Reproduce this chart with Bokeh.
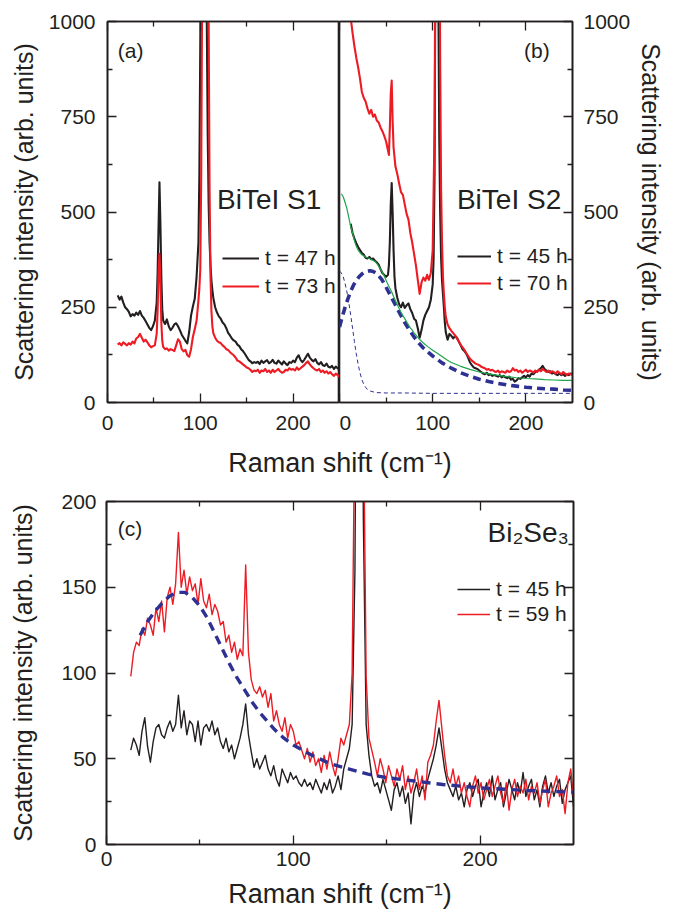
from bokeh.plotting import figure
from bokeh.models import Range1d, LinearAxis, FixedTicker, Legend, LegendItem, Label
from bokeh.layouts import column, row
from bokeh.embed import file_html
from bokeh.resources import INLINE

FONT = "Liberation Sans"
INK = "#231f20"
RED = "#ed1c24"
NAVY = "#2e3192"
GREEN = "#1ca54b"

# ---------------- panel (a): BiTeI S1 ----------------
xa = [11, 13, 15, 17, 19, 21, 23, 25, 27, 29, 31, 33, 35, 37, 39, 41, 43, 45, 47, 49, 51, 53,
      54, 55, 56, 57, 58, 59, 60,
      62, 64, 66, 68, 70, 72, 74, 76, 78, 80, 82, 84, 86, 88, 90, 92, 94, 96, 98,
      99, 100, 101, 102, 103, 104, 105, 106, 107, 108, 109, 110, 111, 112, 113, 114,
      116, 118, 120, 122, 124, 126, 128, 130, 132, 134, 136, 138, 140, 142, 144, 146, 148, 150,
      152, 154, 156, 158, 160, 162, 164, 166, 168, 170, 172, 174, 176, 178, 180, 182, 184, 186,
      188, 190, 192, 194, 196, 198, 200, 202, 204, 206, 208, 210, 212, 214, 216, 218, 220, 222,
      224, 226, 228, 230, 232, 234, 236, 238, 240, 242, 244, 246, 248, 250]
ya_47h = [281, 270, 278, 262, 250, 245, 238, 226, 232, 228, 236, 230, 240, 228, 222, 214, 205, 196, 190, 200, 215, 262,
          340, 460, 578, 470, 330, 245, 215,
          206, 218, 200, 190, 196, 205, 208, 200, 190, 178, 170, 162, 155, 185, 228, 252, 272, 330, 420,
          600, 950, 1400, 2000, 2400, 2400, 2000, 1400, 1000, 700, 520, 420, 360, 320, 295, 275,
          250, 236, 226, 220, 210, 205, 195, 183, 176, 168, 163, 160, 152, 148, 140, 135, 128, 120,
          112, 108, 103, 106, 104, 107, 101, 110, 104, 108, 111, 103, 106, 112, 104, 102, 110, 105,
          100, 108, 102, 98, 106, 104, 110, 106, 118, 124, 112, 106, 112, 120, 128, 118, 112, 108,
          114, 104, 100, 106, 98, 96, 102, 94, 92, 96, 88, 94, 90, 86]
ya_73h = [152, 156, 150, 158, 154, 150, 156, 152, 160, 155, 168, 172, 180, 170, 160, 165, 158, 150, 145, 148, 150, 180,
          240, 340, 390, 320, 210, 162, 146,
          140, 142, 136, 140, 138, 135, 150, 166, 160, 140, 134, 138, 124, 120, 140, 172, 192, 215, 268,
          300, 350, 600, 1100, 1700, 2200, 2500, 2400, 2000, 1400, 1000, 560, 330, 240, 200, 182,
          170, 162, 158, 156, 150, 146, 140, 138, 132, 128, 124, 118, 110, 108, 104, 100, 96, 92,
          90, 86, 80, 84, 82, 86, 78, 84, 82, 88, 80, 84, 78, 86, 80, 84, 88, 82,
          78, 80, 86, 84, 90, 86, 88, 84, 92, 86, 90, 94, 98, 104, 108, 100, 94, 90,
          86, 84, 88, 80, 84, 78, 82, 76, 80, 74, 70, 76, 72, 68]

# ---------------- panel (b): BiTeI S2 ----------------
xb_45h = [12, 14, 16, 18, 20, 22, 24, 26, 28, 30, 32, 34, 36, 38, 40, 42, 44, 46, 48, 50,
          52, 53, 54, 55, 56, 57, 58, 59, 60,
          62, 64, 66, 68, 70, 72, 74, 76, 78, 80, 82, 84, 86, 88, 90, 92, 94, 96, 98, 100,
          101, 102, 103, 104, 105, 106, 107, 108, 109, 110, 111, 112, 113, 114,
          116, 118, 120, 122, 124, 126, 128, 130, 132, 134, 136, 138, 140, 142, 144, 146, 148, 150,
          152, 154, 156, 158, 160, 162, 164, 166, 168, 170, 172, 174, 176, 178, 180, 182, 184, 186,
          188, 190, 192, 194, 196, 198, 200, 202, 204, 206, 208, 210, 212, 214, 216, 218, 220, 222,
          224, 226, 228, 230, 232, 234, 236, 238, 240, 242, 244, 246, 248, 250]
yb_45h = [469, 445, 430, 418, 408, 400, 392, 388, 380, 378, 382, 376, 378, 372, 368, 362, 350, 340, 335, 330,
          335, 360, 420, 520, 576, 500, 400, 330, 300,
          275, 258, 250, 262, 248, 255, 260, 245, 235, 220, 215, 195, 170, 190, 215, 230, 240, 250, 270, 310,
          380, 600, 1200, 2000, 1800, 1100, 700, 500, 380, 320, 285, 250, 210, 185,
          165, 180, 175, 168, 175, 170, 160, 150, 140, 135, 128, 118, 105, 98, 92, 90, 88, 84,
          80, 76, 74, 78, 72, 74, 70, 72, 70, 68, 72, 66, 70, 66, 64, 68, 60, 62,
          55, 58, 64, 62, 66, 70, 66, 72, 68, 76, 74, 80, 82, 86, 90, 96, 88, 84,
          80, 82, 76, 78, 74, 72, 76, 72, 74, 70, 74, 72, 76, 74]
xb_70h = [10, 12, 14, 16, 18, 20, 22, 24, 26, 28, 30, 32, 34, 36, 38, 40, 42, 44, 46, 48, 50, 52,
          53, 54, 55, 56, 57, 58,
          60, 62, 64, 66, 68, 70, 72, 74, 76, 78, 80, 82, 84, 86, 88, 90, 92, 94, 96, 98, 100, 102,
          103, 104, 105, 106, 107, 108, 109, 110, 111, 112, 113, 114,
          116, 118, 120, 122, 124, 126, 128, 130, 132, 134, 136, 138, 140, 142, 144, 146, 148, 150,
          152, 154, 156, 158, 160, 162, 164, 166, 168, 170, 172, 174, 176, 178, 180, 182, 184, 186,
          188, 190, 192, 194, 196, 198, 200, 202, 204, 206, 208, 210, 212, 214, 216, 218, 220, 222,
          224, 226, 228, 230, 232, 234, 236, 238, 240, 242, 244, 246, 248, 250]
yb_70h = [1060, 1010, 970, 935, 905, 880, 850, 815, 800, 790, 772, 758, 768, 750, 756, 740, 735, 722, 712, 700, 685, 662,
          650, 720, 810, 845, 740, 670,
          620, 600, 575, 552, 545, 520, 495, 480, 445, 420, 390, 360, 322, 285, 315, 328, 320, 335, 322, 340, 400, 720,
          1300, 2000, 2400, 2300, 1500, 900, 560, 420, 330, 285, 250, 225,
          205, 195, 188, 182, 176, 168, 160, 152, 145, 138, 130, 122, 115, 110, 106, 102, 100, 98,
          94, 92, 90, 86, 88, 84, 86, 82, 80, 84, 78, 82, 80, 78, 84, 80, 82, 90,
          84, 86, 80, 84, 78, 82, 86, 80, 84, 82, 78, 84, 80, 86, 82, 88, 84, 80,
          84, 78, 82, 80, 76, 82, 78, 74, 80, 76, 72, 76, 74, 72]
# fit (green) and its two components (navy dashed)
xb_fit = [2, 4, 6, 8, 10, 12, 14, 16, 18, 20, 22, 24, 26, 28, 30, 32, 34, 36, 38, 40,
          42, 44, 46, 48, 50, 52, 54, 56, 58, 60, 62, 64, 66, 68, 70, 72, 74, 76, 78, 80,
          85, 90, 95, 100, 105, 110, 115, 120,
          130, 140, 150, 160, 170, 180, 190, 200, 210, 220, 230, 240, 250]
yb_fit = [548, 540, 525, 508, 485, 462, 445, 425, 410, 400, 393, 388, 385, 382, 380, 378, 376, 373, 370, 365,
          358, 350, 342, 332, 320, 310, 300, 290, 278, 268, 257, 247, 237, 228, 220, 212, 204, 196, 190, 183,
          168, 156, 146, 137, 129, 121, 112, 105,
          95, 87, 80, 75, 71, 68, 65, 63, 62, 60, 59, 58, 58]
xb_broad = [0, 3, 6, 9, 12, 15, 18, 21, 24, 27, 30, 33, 36, 39, 42, 45, 48, 51, 54, 57, 60, 63, 66,
            70, 75, 80, 85, 90, 95, 100,
            110, 120, 130, 140, 150, 160, 170, 180, 190, 200, 210, 220, 230, 240, 250]
yb_broad = [198, 225, 250, 272, 292, 308, 320, 330, 337, 342, 345, 346, 344, 340, 333, 324, 312, 298, 284, 270, 256, 242, 228,
            210, 190, 172, 156, 143, 132, 122,
            104, 90, 78, 69, 61, 55, 50, 46, 43, 40, 38, 36, 35, 33, 32]
xb_narrow = [0, 2, 4, 6, 8, 10, 12, 14, 16, 18, 20, 22, 24, 26, 28, 30, 33, 36, 40, 50, 70, 100, 150, 200, 250]
yb_narrow = [345, 340, 330, 312, 290, 262, 230, 195, 160, 128, 100, 78, 60, 48, 40, 34, 30, 28, 26, 25, 25, 24, 24, 24, 24]

# ---------------- panel (c): Bi2Se3 ----------------
xc = [13, 14.5, 16, 17.5, 19, 20.5, 22, 23.5, 25, 26.5,
      28, 29.5, 31, 32.5, 34, 35.5, 37, 38.5, 40, 41.5,
      43, 44.5, 46, 47.5, 49, 50.5, 52, 53.5, 55, 56.5,
      58, 59.5, 61, 62.5, 64, 65.5, 67, 68.5, 70, 71.5,
      73, 74.5, 76, 77.5, 79, 80.5, 82, 83.5, 85, 86.5,
      88, 89.5, 91, 92.5, 94, 95.5, 97, 98.5, 100, 101.5,
      103, 104.5, 106, 107.5, 109, 110.5, 112, 113.5, 115, 116.5,
      118, 119.5, 121, 122.5, 124, 125.5, 127, 128.5, 130, 131.5,
      133, 134.5, 136, 137.5, 139, 140.5, 142, 143.5, 145, 146.5,
      148, 149.5, 151, 152.5, 154, 155.5, 157, 158.5, 160, 161.5,
      163, 164.5, 166, 167.5, 169, 170.5, 172, 173.5, 175, 176.5,
      178, 179.5, 181, 182.5, 184, 185.5, 187, 188.5, 190, 191.5,
      193, 194.5, 196, 197.5, 199, 200.5, 202, 203.5, 205, 206.5,
      208, 209.5, 211, 212.5, 214, 215.5, 217, 218.5, 220, 221.5,
      223, 224.5, 226, 227.5, 229, 230.5, 232, 233.5, 235, 236.5,
      238, 239.5, 241, 242.5, 244, 245.5, 247, 248.5, 250]
yc_59h = [98, 112, 118, 116, 126, 122, 132, 128, 122, 138,
          130, 142, 124, 144, 150, 140, 152, 182, 150, 160,
          146, 156, 148, 152, 140, 155, 142, 138, 146, 134,
          140, 136, 128, 130, 118, 122, 112, 118, 108, 114,
          110, 163, 112, 96, 90, 88, 92, 86, 90, 80,
          88, 72, 78, 70, 66, 74, 62, 70, 66, 58,
          60, 55, 50, 56, 48, 54, 46, 50, 42, 52,
          44, 54, 46, 40, 50, 62, 58, 64, 70, 100,
          260, 600, 600, 260, 98, 62, 55, 48, 40, 50,
          44, 36, 46, 40, 34, 44, 38, 46, 32, 40,
          30, 36, 44, 32, 40, 26, 48, 52, 58, 72,
          84, 68, 52, 40, 36, 44, 34, 40, 30, 36,
          28, 22, 34, 40, 30, 36, 26, 32, 38, 28,
          34, 40, 30, 24, 36, 20, 32, 38, 28, 34,
          30, 38, 26, 34, 30, 36, 24, 32, 38, 22,
          30, 34, 40, 28, 32, 18, 36, 44, 28]
yc_45h = [55, 62, 58, 52, 66, 74, 57, 48, 60, 68,
          70, 64, 62, 68, 72, 66, 70, 87, 68, 78,
          64, 72, 70, 60, 72, 58, 68, 70, 66, 72,
          64, 68, 60, 56, 62, 54, 58, 50, 56, 62,
          70, 82, 64, 54, 45, 50, 44, 48, 52, 44,
          40, 46, 38, 34, 44, 40, 36, 42, 38, 40,
          36, 34, 38, 34, 36, 32, 38, 34, 30, 36,
          32, 38, 30, 34, 40, 32, 44, 50, 56, 70,
          160, 450, 480, 190, 70, 52, 40, 34, 36, 30,
          38, 32, 26, 20, 32, 36, 28, 34, 24, 30,
          12, 30, 36, 28, 34, 30, 38, 44, 50, 58,
          68, 56, 44, 36, 32, 28, 34, 26, 30, 22,
          32, 36, 28, 34, 38, 22, 30, 36, 28, 40,
          26, 32, 36, 22, 30, 38, 32, 26, 36, 30,
          42, 28, 34, 38, 26, 32, 22, 34, 40, 30,
          36, 28, 34, 38, 24, 32, 36, 40, 22]
xc_fit = [18, 22, 26, 30, 34, 38, 42, 46, 50, 54, 58, 62, 66, 70, 74, 78, 82, 86, 90, 95, 100,
          110, 120, 130, 140, 150, 165, 180, 200, 225, 250]
yc_fit = [122, 130, 136, 141, 145, 147, 147, 144, 139, 132, 123, 114, 105, 97, 90, 83, 77, 72, 67, 62, 58,
          52, 47, 44, 41, 39, 37, 35, 33, 31.5, 30.5]

X_TICKS, X_MINOR = [0, 100, 200], [50, 150]
YA_TICKS, YA_MINOR = [0, 250, 500, 750, 1000], [125, 375, 625, 875]
YC_TICKS, YC_MINOR = [0, 50, 100, 150, 200], [25, 75, 125, 175]
Y_TITLE = "Scattering intensity (arb. units)"
X_TITLE = "Raman shift (cm\u207b\u00b9)"


def base(fw, fh, xr, yr, left, right, top, bottom, yloc="left"):
    p = figure(frame_width=fw, frame_height=fh, x_range=Range1d(*xr), y_range=Range1d(*yr),
               output_backend="svg", toolbar_location=None, y_axis_location=yloc,
               min_border_left=left, min_border_right=right, min_border_top=top,
               min_border_bottom=bottom, background_fill_color="white", border_fill_color="white")
    p.grid.visible = False
    p.outline_line_color = INK
    p.outline_line_width = 1.6
    p.outline_line_alpha = 1.0
    return p


def style_axis(ax, ticks, minor, show=True, standoff=11, size="21px"):
    ax.ticker = FixedTicker(ticks=ticks, minor_ticks=minor)
    ax.axis_line_color = INK
    ax.axis_line_width = 1.6
    ax.major_tick_line_color = INK
    ax.major_tick_line_width = 1.3
    ax.minor_tick_line_color = INK
    ax.minor_tick_line_width = 1.3
    ax.major_tick_in = 9
    ax.major_tick_out = 0
    ax.minor_tick_in = 5
    ax.minor_tick_out = 0
    ax.major_label_text_font = FONT
    if show:
        ax.major_label_text_color = INK
        ax.major_label_text_font_size = size
        ax.major_label_standoff = standoff
    else:
        ax.major_label_text_color = None
        ax.major_label_text_font_size = "1px"
        ax.major_label_standoff = 0
    ax.axis_label_text_font = FONT
    ax.axis_label_text_font_style = "normal"
    ax.axis_label_text_color = INK


def mirror(p, side, ticks, minor):
    ax = LinearAxis()
    style_axis(ax, ticks, minor, show=False)
    p.add_layout(ax, side)
    return ax


def add_text(p, x, y, text, size):
    p.add_layout(Label(x=x, y=y, text=text, text_font=FONT, text_font_size=size,
                       text_color=INK, text_align="left", text_baseline="middle"))


def add_legend(p, items, loc, glyph_w, spacing, size="21px"):
    leg = Legend(items=[LegendItem(label=l, renderers=[r]) for l, r in items], location=loc,
                 glyph_width=glyph_w, glyph_height=20, label_height=20, spacing=spacing,
                 padding=0, margin=0, label_standoff=6, label_text_font=FONT,
                 label_text_font_size=size, label_text_color=INK,
                 border_line_alpha=0, background_fill_alpha=0)
    p.add_layout(leg)


# ---- (a)
pa = base(232, 381, (0, 250), (0, 1000), 107, 0, 21, 38)
style_axis(pa.xaxis[0], X_TICKS, X_MINOR, standoff=13)
style_axis(pa.yaxis[0], YA_TICKS, YA_MINOR, standoff=12)
pa.yaxis[0].axis_label = Y_TITLE
pa.yaxis[0].axis_label_text_font_size = "25px"
pa.yaxis[0].axis_label_standoff = 8
mirror(pa, "above", X_TICKS, X_MINOR)
ka = pa.line(xa, ya_47h, line_color=INK, line_width=2.1, line_join="round")
ra = pa.line(xa, ya_73h, line_color=RED, line_width=2.1, line_join="round")
add_legend(pa, [("t = 47 h", ka), ("t = 73 h", ra)], (115, 104), 37, 4)
add_text(pa, 11, 924, "(a)", "21px")
add_text(pa, 118, 533, "BiTeI S1", "28px")

# ---- (b)
pb = base(233, 381, (0, 250), (0, 1000), 0, 101, 21, 38, yloc="right")
style_axis(pb.xaxis[0], X_TICKS, X_MINOR, standoff=13)
style_axis(pb.yaxis[0], YA_TICKS, YA_MINOR, standoff=11)
pb.yaxis[0].axis_label = Y_TITLE
pb.yaxis[0].axis_label_text_font_size = "25px"
pb.yaxis[0].axis_label_standoff = 4
mirror(pb, "above", X_TICKS, X_MINOR)
kb = pb.line(xb_45h, yb_45h, line_color=INK, line_width=2.1, line_join="round")
rb = pb.line(xb_70h, yb_70h, line_color=RED, line_width=2.1, line_join="round")
pb.line(xb_narrow, yb_narrow, line_color=NAVY, line_width=1, line_dash="4 3")
pb.line(xb_broad, yb_broad, line_color=NAVY, line_width=3.6, line_dash="8 5")
pb.line(xb_fit, yb_fit, line_color=GREEN, line_width=1.2)
add_legend(pb, [("t = 45 h", kb), ("t = 70 h", rb)], (118, 107), 34, 3)
add_text(pb, 198, 924, "(b)", "21px")
add_text(pb, 126, 533, "BiTeI S2", "28px")

# ---- (c)
pc = base(467, 343, (0, 250), (0, 200), 106, 100, 61, 71)
style_axis(pc.xaxis[0], X_TICKS, X_MINOR, standoff=7)
pc.xaxis[0].axis_label = X_TITLE
pc.xaxis[0].axis_label_text_font_size = "27px"
pc.xaxis[0].axis_label_standoff = 10
style_axis(pc.yaxis[0], YC_TICKS, YC_MINOR, standoff=10)
pc.yaxis[0].axis_label = Y_TITLE
pc.yaxis[0].axis_label_text_font_size = "25px"
pc.yaxis[0].axis_label_standoff = 21
top_c = mirror(pc, "above", X_TICKS, X_MINOR)
top_c.axis_label = X_TITLE           # shared x title of panels (a) and (b)
top_c.axis_label_text_font_size = "27px"
top_c.axis_label_standoff = 24
mirror(pc, "right", YC_TICKS, YC_MINOR)
kc = pc.line(xc, yc_45h, line_color=INK, line_width=1.4, line_join="round")
rc = pc.line(xc, yc_59h, line_color=RED, line_width=1.4, line_join="round")
pc.line(xc_fit, yc_fit, line_color=NAVY, line_width=3.4, line_dash="9 6")
add_legend(pc, [("t = 45 h", kc), ("t = 59 h", rc)], (351, 218), 33, 1)
add_text(pc, 6, 184, "(c)", "21px")
add_text(pc, 204, 182, "Bi\u2082Se\u2083", "28px")

layout = column(row(pa, pb), pc)
open("out.html", "w").write(file_html(layout, INLINE))
